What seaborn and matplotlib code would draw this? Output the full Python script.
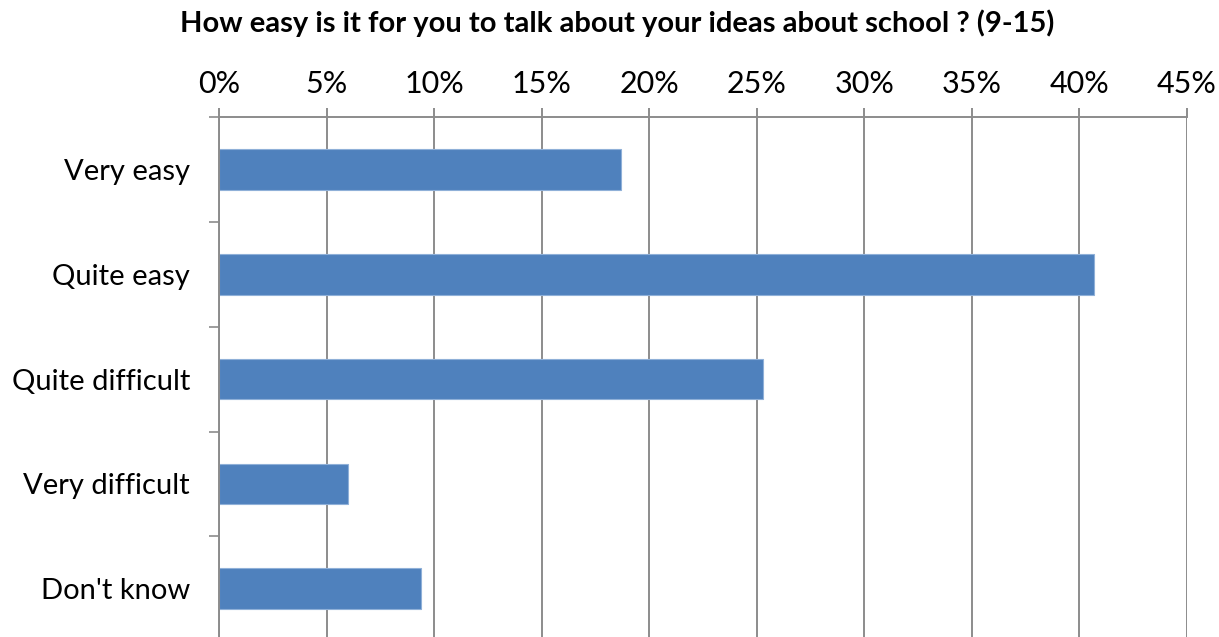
import matplotlib
matplotlib.use("Agg")
import matplotlib.pyplot as plt
import seaborn as sns
import pandas as pd
import numpy as np
from matplotlib.ticker import FixedLocator, PercentFormatter

# data
categories = ["Very easy", "Quite easy", "Quite difficult", "Very difficult", "Don't know"]
shares = [18.7, 40.7, 25.3, 6.0, 9.4]
x_ticks = [0, 5, 10, 15, 20, 25, 30, 35, 40, 45]

title = "How easy is it for you to talk about your ideas about school ? (9-15)"


def main():
    sns.set_style("white")
    plt.rcParams["font.family"] = ["Lato", "DejaVu Sans"]
    plt.rcParams["text.color"] = "black"
    plt.rcParams["xtick.labelcolor"] = "black"
    plt.rcParams["ytick.labelcolor"] = "black"

    df = pd.DataFrame({"answer": categories, "share": shares})

    fig = plt.figure(figsize=(12.19, 6.37), dpi=100)
    ax = fig.add_axes([0.1797, -0.007, 0.794, 0.824])

    sns.barplot(data=df, y="answer", x="share", orient="h", order=categories,
                color="#4F81BD", saturation=1, width=0.39,
                edgecolor="#8FB0D8", linewidth=0.8, ax=ax)

    ax.set_xlim(0, 45)
    ax.set_ylim(len(categories) - 0.5, -0.5)
    ax.xaxis.set_major_locator(FixedLocator(x_ticks))
    ax.xaxis.set_major_formatter(PercentFormatter(decimals=0))
    ax.xaxis.tick_top()
    ax.set_axisbelow(True)
    ax.grid(axis="x", color="#8c8c8c", linewidth=1.4)
    ax.grid(axis="y", visible=False)

    # category boundaries get the little ticks, the labels sit in between
    ax.yaxis.set_minor_locator(FixedLocator(np.arange(-0.5, len(categories), 1.0)))
    ax.tick_params(axis="y", which="major", length=0, pad=21, labelsize=21,
                   labelcolor="black")
    ax.tick_params(axis="y", which="minor", length=7, width=1.2, color="#8c8c8c",
                   direction="out", left=True)
    ax.tick_params(axis="x", which="major", length=6.5, width=1.4, color="#8c8c8c",
                   direction="out", top=True, bottom=False, pad=7, labelsize=22,
                   labelcolor="black")

    for side in ["right", "bottom"]:
        ax.spines[side].set_visible(False)
    for side in ["left", "top"]:
        ax.spines[side].set_color("#8c8c8c")
        ax.spines[side].set_linewidth(1.4)

    ax.set_xlabel("")
    ax.set_ylabel("")

    fig.text(0.506, 0.963, title, ha="center", va="center",
             fontsize=21, fontweight="bold", color="black")

    fig.savefig("out.png", dpi=100)


if __name__ == "__main__":
    main()
